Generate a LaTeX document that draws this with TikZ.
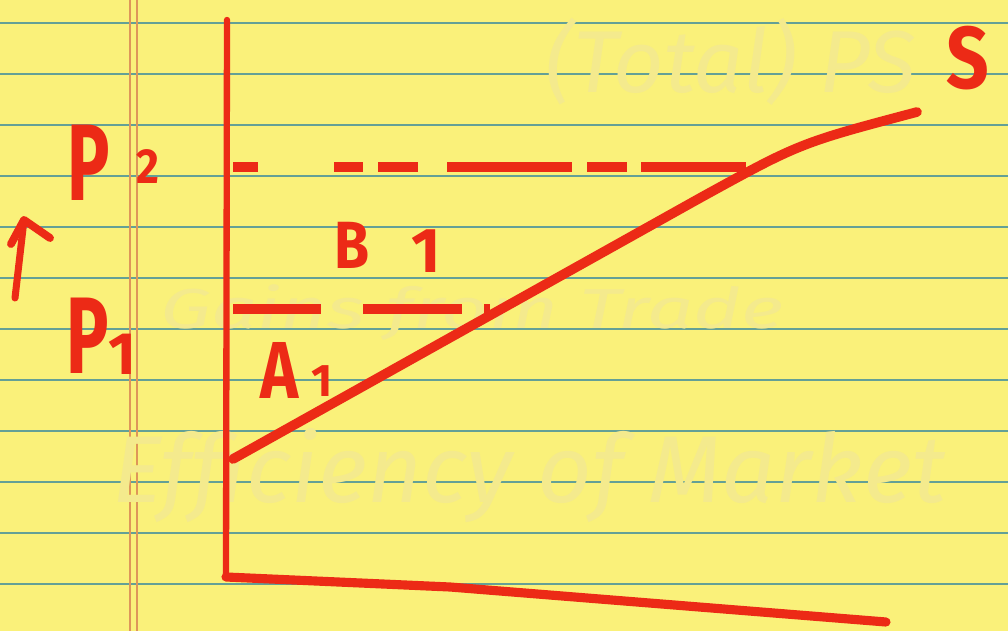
\documentclass[tikz,border=0pt]{standalone}
\usepackage{fontspec}
\setmainfont{Fira Sans}
\usetikzlibrary{arrows.meta, positioning, calc}
\definecolor{padyellow}{RGB}{250,241,122}
\definecolor{ruleteal}{RGB}{100,160,150}
\definecolor{margintan}{RGB}{222,150,90}
\definecolor{markerred}{RGB}{236,42,22}
\definecolor{ghostink}{RGB}{244,234,141}

\newcommand{\narrow}[2]{\scalebox{#1}[1]{#2}}

\begin{document}
\begin{tikzpicture}[
    x=0.02cm, y=-0.02cm,
    ink/.style={draw=markerred, line cap=round, line join=round},
    dashink/.style={draw=markerred, line width=5.2pt, line cap=butt},
    lbl/.style={text=markerred, inner sep=0pt},
    ghost/.style={text=ghostink, inner sep=0pt, anchor=west,
        font=\itshape\fontsize{46}{46}\selectfont},
    rule/.style={draw=ruleteal, line width=1.1pt},
    margin/.style={draw=margintan, line width=0.9pt}
]
\fill[padyellow] (0,0) rectangle (1008,631);
\useasboundingbox (0,0) rectangle (1008,631);
\clip (0,0) rectangle (1008,631);

% the legal pad
\foreach \k in {0,...,11}
    \draw[rule] (0,{23+51*\k}) -- (1008,{23+51*\k});
\draw[margin] (130,0) -- (130,631);
\draw[margin] (137,0) -- (137,631);

% show-through from the page below
\node[ghost, font=\itshape\fontsize{50}{50}\selectfont] (gtotal) at (545,62) {(Total) PS};
\node[ghost, font=\itshape\fontsize{32}{32}\selectfont] (ggains) at (160,313) {\narrow{1.45}{Gains from Trade}};
\node[ghost, font=\itshape\fontsize{54}{54}\selectfont] (geffic) at (112,476) {Efficiency of Market};

% axes
\coordinate (ytop) at (227,20);
\coordinate (origin) at (226,577);
\coordinate (xmid) at (450,587);
\coordinate (xend) at (886,622);
\draw[ink, line width=3.6pt] (ytop) -- (origin);
\draw[ink, line width=5.2pt] (origin) -- (xmid) -- (xend);

% supply curve
\coordinate (sbot) at (233,459);
\coordinate (smid) at (700,198);
\coordinate (stop) at (917,112);
\draw[ink, line width=5.5pt] (sbot) -- (smid) .. controls (800,143) .. (stop);

% price lines
\foreach \a/\b in {233/258, 334/363, 378/418, 447/572, 587/627, 641/746}
    \draw[dashink] (\a,167) -- (\b,167);
\foreach \a/\b in {233/321, 363/462, 484/490}
    \draw[dashink] (\a,309) -- (\b,309);

% labels
\node[lbl, font=\bfseries\fontsize{50}{50}\selectfont] (slbl) at (968,58) {\narrow{0.85}{S}};
\node[lbl, font=\bfseries\fontsize{62}{62}\selectfont] (p2) at (89,163) {\narrow{0.65}{P}};
\node[lbl, font=\bfseries\fontsize{28}{28}\selectfont] (p2sub) at (148,167) {\narrow{0.9}{2}};
\node[lbl, font=\bfseries\fontsize{62}{62}\selectfont] (p1) at (88,336) {\narrow{0.65}{P}};
\node[lbl, font=\bfseries\fontsize{34}{34}\selectfont] (p1sub) at (122,354) {1};
\node[lbl, font=\bfseries\fontsize{38}{38}\selectfont] (blbl) at (352,245) {\narrow{0.85}{B}};
\node[lbl, font=\bfseries\fontsize{36}{36}\selectfont] (bsub) at (426,251) {1};
\node[lbl, font=\bfseries\fontsize{46}{46}\selectfont] (albl) at (280,370) {\narrow{0.8}{A}};
\node[lbl, font=\bfseries\fontsize{26}{26}\selectfont] (asub) at (322,381) {1};

% price rises
\coordinate (arrbot) at (15,298);
\coordinate (arrtip) at (24,220);
\draw[ink, line width=4pt] (arrbot) -- (arrtip);
\draw[ink, line width=4.5pt] (11,244) -- (arrtip) -- (50,238);

\end{tikzpicture}
\end{document}
